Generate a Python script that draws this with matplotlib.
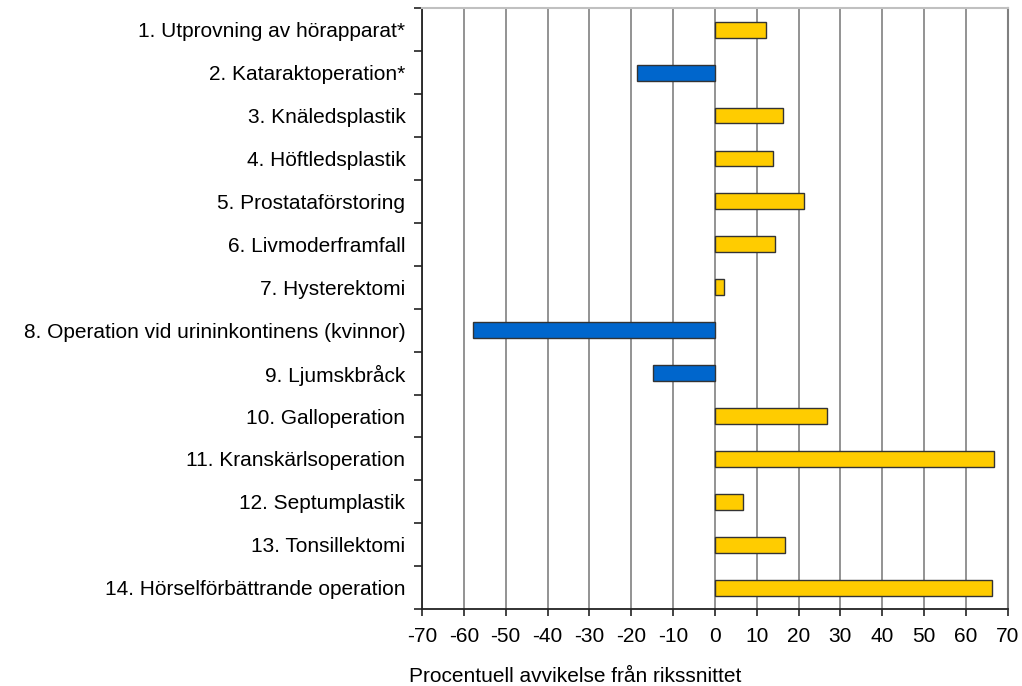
import matplotlib.pyplot as plt
import numpy as np

plt.rcParams['font.family'] = ['Liberation Sans', 'DejaVu Sans']

labels = [
    "1. Utprovning av hörapparat*",
    "2. Kataraktoperation*",
    "3. Knäledsplastik",
    "4. Höftledsplastik",
    "5. Prostataförstoring",
    "6. Livmoderframfall",
    "7. Hysterektomi",
    "8. Operation vid urininkontinens (kvinnor)",
    "9. Ljumskbråck",
    "10. Galloperation",
    "11. Kranskärlsoperation",
    "12. Septumplastik",
    "13. Tonsillektomi",
    "14. Hörselförbättrande operation",
]
avvikelse = [12.3, -18.6, 16.2, 13.8, 21.4, 14.3, 2.1, -57.9, -14.8, 26.7, 66.7, 6.7, 16.7, 66.2]

yellow = "#FFCC00"
blue = "#0066CC"
colors = [blue if v < 0 else yellow for v in avvikelse]
fs = 15

fig = plt.figure(figsize=(10.22, 6.86), dpi=100)
ax = fig.add_axes([0.413, 0.112, 0.573, 0.876])

y = np.arange(len(labels))
ax.barh(y, avvikelse, height=0.37, color=colors, edgecolor="#333333", linewidth=1.0, zorder=3)

ax.set_xlim(-70, 70)
ax.set_ylim(len(labels) - 0.5, -0.5)
ax.set_xticks(np.arange(-70, 71, 10))
ax.set_xticklabels([str(v) for v in range(-70, 71, 10)], fontsize=fs)
ax.xaxis.grid(True, color="#808080", linewidth=1.2, zorder=0)

# category labels without ticks, tick marks on the boundaries between rows
ax.set_yticks(y)
ax.set_yticklabels(labels, fontsize=fs)
ax.tick_params(axis='y', which='major', length=0, pad=12)
ax.set_yticks(np.arange(-0.5, len(labels), 1), minor=True)
ax.tick_params(axis='y', which='minor', length=6, width=1.2, color="#222222")
ax.tick_params(axis='x', length=5, width=1.2, color="#222222", pad=8)

fig.text(575 / 1022, 1 - 677 / 686, "Procentuell avvikelse från rikssnittet",
         fontsize=fs, ha='center', va='center')

for side in ['left', 'bottom']:
    ax.spines[side].set_color("#222222")
    ax.spines[side].set_linewidth(1.3)
ax.spines['top'].set_color("#c0c0c0")
ax.spines['right'].set_color("#808080")
ax.spines['top'].set_linewidth(1.5)
ax.spines['right'].set_linewidth(1.5)

fig.savefig("out.png", dpi=100)
